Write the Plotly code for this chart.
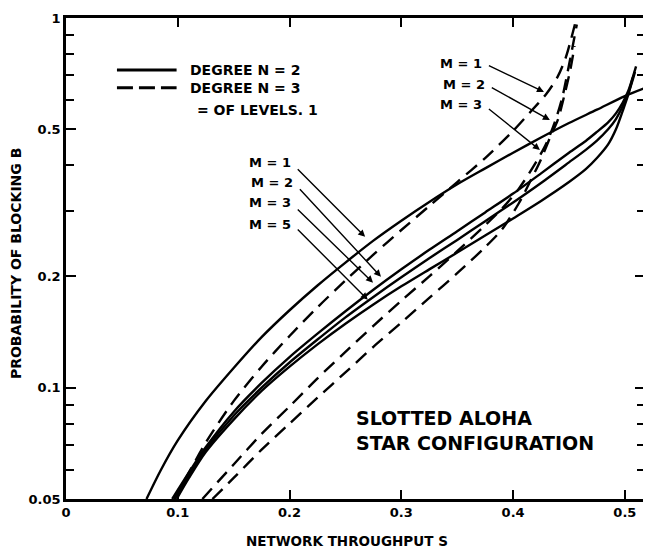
import math
import plotly.graph_objects as go

# N = 2 (solid) curves
s_m1_x = [0.072, 0.085, 0.100, 0.125, 0.150, 0.175, 0.200, 0.225, 0.250, 0.275, 0.300, 0.325, 0.350, 0.375, 0.400, 0.425, 0.450, 0.475, 0.500, 0.520]
s_m1_y = [0.050, 0.060, 0.072, 0.092, 0.113, 0.137, 0.162, 0.189, 0.218, 0.250, 0.283, 0.318, 0.355, 0.392, 0.432, 0.475, 0.520, 0.565, 0.615, 0.650]

s_m2_x = [0.095, 0.110, 0.125, 0.150, 0.175, 0.200, 0.225, 0.250, 0.275, 0.300, 0.325, 0.350, 0.375, 0.400, 0.425, 0.450, 0.465, 0.475, 0.485, 0.492, 0.498, 0.503, 0.507, 0.510]
s_m2_y = [0.050, 0.059, 0.069, 0.086, 0.103, 0.121, 0.140, 0.161, 0.184, 0.209, 0.236, 0.265, 0.298, 0.335, 0.380, 0.432, 0.465, 0.492, 0.522, 0.552, 0.590, 0.635, 0.690, 0.740]

s_m3_x = [0.097, 0.110, 0.125, 0.150, 0.175, 0.200, 0.225, 0.250, 0.275, 0.300, 0.325, 0.350, 0.375, 0.400, 0.425, 0.450, 0.465, 0.475, 0.485, 0.492, 0.498, 0.503, 0.507, 0.509]
s_m3_y = [0.050, 0.058, 0.068, 0.084, 0.100, 0.117, 0.135, 0.155, 0.176, 0.199, 0.224, 0.251, 0.282, 0.317, 0.358, 0.407, 0.440, 0.466, 0.500, 0.533, 0.577, 0.625, 0.680, 0.715]

s_m5_x = [0.099, 0.110, 0.125, 0.150, 0.175, 0.200, 0.225, 0.250, 0.275, 0.300, 0.325, 0.350, 0.375, 0.400, 0.425, 0.450, 0.465, 0.475, 0.485, 0.492, 0.498, 0.503, 0.507]
s_m5_y = [0.050, 0.057, 0.067, 0.082, 0.098, 0.114, 0.131, 0.149, 0.168, 0.188, 0.209, 0.232, 0.258, 0.287, 0.320, 0.360, 0.390, 0.418, 0.455, 0.500, 0.560, 0.620, 0.690]

# N = 3 (dashed) curves
d_m1_x = [0.097, 0.110, 0.125, 0.150, 0.175, 0.200, 0.225, 0.250, 0.275, 0.300, 0.325, 0.350, 0.375, 0.400, 0.415, 0.430, 0.440, 0.447, 0.452, 0.456]
d_m1_y = [0.050, 0.059, 0.071, 0.092, 0.114, 0.138, 0.165, 0.195, 0.229, 0.267, 0.310, 0.360, 0.418, 0.495, 0.555, 0.625, 0.695, 0.780, 0.880, 0.980]

d_m2_x = [0.122, 0.150, 0.175, 0.200, 0.225, 0.250, 0.275, 0.300, 0.325, 0.350, 0.375, 0.390, 0.405, 0.420, 0.430, 0.438, 0.444, 0.449, 0.453, 0.457]
d_m2_y = [0.050, 0.062, 0.075, 0.089, 0.106, 0.125, 0.147, 0.172, 0.200, 0.234, 0.275, 0.305, 0.345, 0.405, 0.460, 0.530, 0.610, 0.720, 0.830, 0.960]

d_m3_x = [0.131, 0.150, 0.175, 0.200, 0.225, 0.250, 0.275, 0.300, 0.325, 0.350, 0.375, 0.390, 0.405, 0.415, 0.425, 0.433, 0.440, 0.446, 0.451, 0.455]
d_m3_y = [0.050, 0.057, 0.068, 0.080, 0.094, 0.110, 0.129, 0.150, 0.175, 0.204, 0.240, 0.268, 0.315, 0.360, 0.415, 0.475, 0.530, 0.620, 0.720, 0.840]

x_ticks = [0, 0.1, 0.2, 0.3, 0.4, 0.5]
x_labels = ["0", "0.1", "0.2", "0.3", "0.4", "0.5"]
y_ticks = [0.05, 0.1, 0.2, 0.5, 1]
y_labels = ["0.05", "0.1", "0.2", "0.5", "1"]
y_minor = [0.06, 0.07, 0.08, 0.09, 0.3, 0.4, 0.6, 0.7, 0.8, 0.9]

FONT = "DejaVu Sans"

fig = go.Figure()

solid = [(s_m1_x, s_m1_y), (s_m2_x, s_m2_y), (s_m3_x, s_m3_y), (s_m5_x, s_m5_y)]
dashed = [(d_m1_x, d_m1_y), (d_m2_x, d_m2_y), (d_m3_x, d_m3_y)]

for xs, ys in solid:
    fig.add_trace(go.Scatter(x=xs, y=ys, mode="lines",
                             line=dict(color="black", width=2.4, shape="spline", smoothing=0.8)))
for xs, ys in dashed:
    fig.add_trace(go.Scatter(x=xs, y=ys, mode="lines",
                             line=dict(color="black", width=2.4, dash="14px,8px", shape="spline", smoothing=0.8)))

# legend samples drawn by hand, like the original
fig.add_shape(type="line", xref="paper", yref="paper", x0=0.088, x1=0.191, y0=0.892, y1=0.892,
              line=dict(color="black", width=3))
fig.add_shape(type="line", xref="paper", yref="paper", x0=0.088, x1=0.191, y0=0.855, y1=0.855,
              line=dict(color="black", width=3, dash="16px,6px"))

notes = [
    ("DEGREE N = 2", 0.210, 0.892),
    ("DEGREE N = 3", 0.210, 0.855),
    ("= OF LEVELS. 1", 0.222, 0.809),
]
for txt, xp, yp in notes:
    fig.add_annotation(x=xp, y=yp, xref="paper", yref="paper", text=f"<b>{txt}</b>", showarrow=False,
                       xanchor="left", yanchor="middle", font=dict(family=FONT, size=14, color="black"))

fig.add_annotation(x=0.498, y=0.168, xref="paper", yref="paper", text="<b>SLOTTED ALOHA</b>", showarrow=False,
                   xanchor="left", yanchor="middle", font=dict(family=FONT, size=19, color="black"))
fig.add_annotation(x=0.498, y=0.116, xref="paper", yref="paper", text="<b>STAR CONFIGURATION</b>", showarrow=False,
                   xanchor="left", yanchor="middle", font=dict(family=FONT, size=19, color="black"))

# axis titles
fig.add_annotation(x=0.4845, y=-0.087, xref="paper", yref="paper", text="<b>NETWORK THROUGHPUT S</b>",
                   showarrow=False, xanchor="center", yanchor="middle", font=dict(family=FONT, size=13.5, color="black"))
fig.add_annotation(x=-0.085, y=0.49, xref="paper", yref="paper", text="<b>PROBABILITY OF BLOCKING B</b>",
                   textangle=-90, showarrow=False, xanchor="center", yanchor="middle",
                   font=dict(family=FONT, size=14, color="black"))

# M labels with leader arrows (y in log10 units for a log axis)
left_labels = [
    ("M = 1", -0.392, (0.206, -0.405), (0.2676, -0.592)),
    ("M = 2", -0.446, (0.208, -0.459), (0.2818, -0.700)),
    ("M = 3", -0.500, (0.206, -0.514), (0.2747, -0.716)),
    ("M = 5", -0.559, (0.206, -0.568), (0.2700, -0.762)),
]
right_labels = [
    ("M = 1", -0.122, (0.377, -0.127), (0.4276, -0.200)),
    ("M = 2", -0.181, (0.3796, -0.186), (0.4329, -0.276)),
    ("M = 3", -0.235, (0.377, -0.243), (0.4240, -0.357)),
]
for lab, ly, (x0, y0), (x1, y1) in left_labels + right_labels:
    fig.add_annotation(x=x0 - 0.003, y=ly, xref="x", yref="y", text=f"<b>{lab}</b>", showarrow=False,
                       xanchor="right", yanchor="middle", font=dict(family=FONT, size=13, color="black"))
    fig.add_annotation(x=x1, y=y1, ax=x0, ay=y0, xref="x", yref="y", axref="x", ayref="y", text="",
                       showarrow=True, arrowhead=2, arrowsize=1, arrowwidth=1.4, arrowcolor="black", standoff=0)

# the page body adds an 8px margin, so the figure is 8px smaller than the window
fig.update_layout(
    width=643, height=543,
    margin=dict(l=58, r=3, t=10, b=52),
    showlegend=False,
    plot_bgcolor="white",
    paper_bgcolor="white",
    font=dict(family=FONT, size=13, color="black"),
)

fig.update_xaxes(
    range=[0, 0.518], tickvals=x_ticks, ticktext=[f"<b>{t}</b>" for t in x_labels],
    ticks="inside", ticklen=9, tickwidth=2, tickcolor="black",
    showline=True, linecolor="black", linewidth=2.5, mirror="ticks",
    showgrid=False, zeroline=False,
    tickfont=dict(family=FONT, size=13, color="black"),
)
fig.update_yaxes(
    type="log", range=[math.log10(0.05), 0], tickvals=y_ticks, ticktext=[f"<b>{t}</b>" for t in y_labels],
    ticks="inside", ticklen=10, tickwidth=2, tickcolor="black",
    minor=dict(tickvals=y_minor, ticks="inside", ticklen=8, tickwidth=2, tickcolor="black"),
    showline=True, linecolor="black", linewidth=2.5, mirror="ticks",
    showgrid=False, zeroline=False,
    tickfont=dict(family=FONT, size=13, color="black"),
)

fig.write_html("out.html")
